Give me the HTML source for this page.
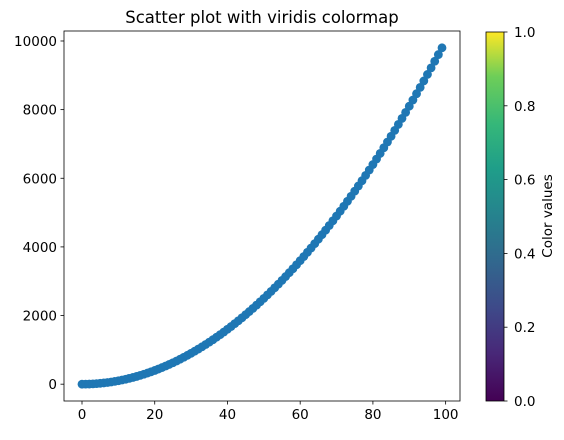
<!DOCTYPE html>
<html><head><meta charset="utf-8"><style>
body{margin:0;background:#fff;font-family:"Liberation Sans","DejaVu Sans",sans-serif}
svg text{font-family:"DejaVu Sans","Liberation Sans",sans-serif}
</style></head><body>
<svg id="c" width="564" height="435" xmlns="http://www.w3.org/2000/svg">
<defs><linearGradient id="vir" x1="0" y1="1" x2="0" y2="0">
<stop offset="0" stop-color="#440154"/><stop offset="0.13" stop-color="#482878"/><stop offset="0.25" stop-color="#3e4989"/><stop offset="0.38" stop-color="#31688e"/><stop offset="0.5" stop-color="#26828e"/><stop offset="0.63" stop-color="#1f9e89"/><stop offset="0.75" stop-color="#35b779"/><stop offset="0.88" stop-color="#6ece58"/><stop offset="1" stop-color="#fde725"/>
</linearGradient></defs>
<text x="262" y="23" font-size="16.5" text-anchor="middle">Scatter plot with viridis colormap</text>
<g id="plot"></g>
<rect x="64" y="31" width="396" height="370" fill="none" stroke="#000" stroke-width="0.8"/>
<rect x="486" y="32" width="18" height="369" fill="url(#vir)" stroke="#000" stroke-width="0.8"/>
<g id="cb"></g>
<text transform="translate(552,216) rotate(-90)" font-size="13.5" text-anchor="middle">Color values</text>
</svg>
<script>
const xs=[0,1,2,3,4,5,6,7,8,9,10,11,12,13,14,15,16,17,18,19,20,21,22,23,24,25,26,27,28,29,30,31,32,33,34,35,36,37,38,39,40,41,42,43,44,45,46,47,48,49,50,51,52,53,54,55,56,57,58,59,60,61,62,63,64,65,66,67,68,69,70,71,72,73,74,75,76,77,78,79,80,81,82,83,84,85,86,87,88,89,90,91,92,93,94,95,96,97,98,99];
const ys=[0,1,4,9,16,25,36,49,64,81,100,121,144,169,196,225,256,289,324,361,400,441,484,529,576,625,676,729,784,841,900,961,1024,1089,1156,1225,1296,1369,1444,1521,1600,1681,1764,1849,1936,2025,2116,2209,2304,2401,2500,2601,2704,2809,2916,3025,3136,3249,3364,3481,3600,3721,3844,3969,4096,4225,4356,4489,4624,4761,4900,5041,5184,5329,5476,5625,5776,5929,6084,6241,6400,6561,6724,6889,7056,7225,7396,7569,7744,7921,8100,8281,8464,8649,8836,9025,9216,9409,9604,9801];
const xTicks=[0,20,40,60,80,100];
const yTicks=[0,2000,4000,6000,8000,10000];
const cbTicks=[0,0.2,0.4,0.6,0.8,1.0];
const NS="http://www.w3.org/2000/svg";
const X=v=>64+(v+4.95)/108.9*396;
const Y=v=>401-(v+490.05)/10781.1*370;
const CB=v=>401-v*369;
const g=document.getElementById('plot'), cb=document.getElementById('cb');
function mk(t,a,p){const e=document.createElementNS(NS,t);for(const k in a)e.setAttribute(k,a[k]);p.appendChild(e);return e;}
xTicks.forEach(t=>{const x=X(t);
 const l=mk('line',{x1:x,x2:x,y1:401,y2:404.5,stroke:'#000','stroke-width':0.8},g);
 
 
 const s=mk('text',{x:x,y:419,'font-size':13.5,'text-anchor':'middle'},g);s.textContent=t;
 
 });
yTicks.forEach(t=>{const y=Y(t);
 const l=mk('line',{x1:60.5,x2:64,y1:y,y2:y,stroke:'#000','stroke-width':0.8},g);
 
 
 const s=mk('text',{x:57,y:y+5,'font-size':13.5,'text-anchor':'end'},g);s.textContent=t;
 
 });
xs.forEach((x,i)=>{const c=mk('circle',{cx:X(x),cy:Y(ys[i]),r:4.4,fill:'#1f77b4'},g);
 
 });
cbTicks.forEach(t=>{const y=CB(t);
 const l=mk('line',{x1:504,x2:507.5,y1:y,y2:y,stroke:'#000','stroke-width':0.8},cb);
 
 
 const s=mk('text',{x:514,y:y+5,'font-size':13.5},cb);s.textContent=t.toFixed(1);
 
 });
</script>
</body></html>
